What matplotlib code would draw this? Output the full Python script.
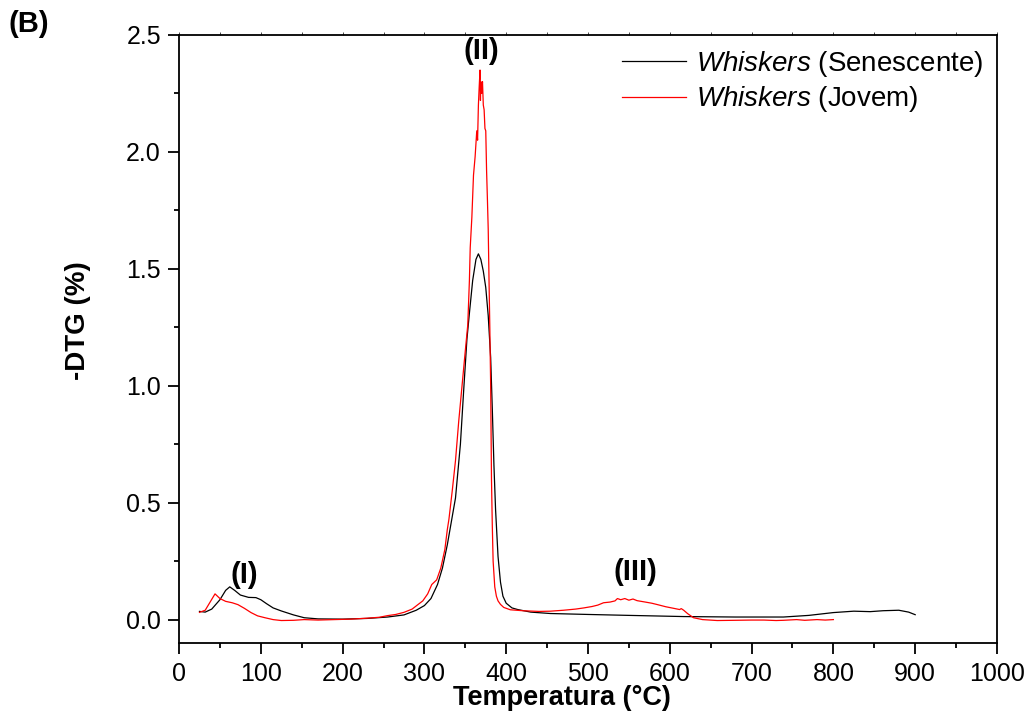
import matplotlib
matplotlib.use("Agg")
import matplotlib.pyplot as plt
from matplotlib.ticker import MultipleLocator, FormatStrFormatter

plt.rcParams['font.family'] = ['Liberation Sans', 'DejaVu Sans']
plt.rcParams['mathtext.fontset'] = 'custom'
plt.rcParams['mathtext.rm'] = 'Liberation Sans'
plt.rcParams['mathtext.it'] = 'Liberation Sans:italic'

# -DTG curves (temperature in C, -DTG in %)
temp_sen = [25, 32, 40, 50, 57, 62, 68, 75, 85, 94, 100, 107, 115, 125, 140, 153,
            170, 200, 230, 255, 275, 290, 300, 308, 316, 322, 328, 333, 338, 344,
            348, 352, 355, 359, 363, 366, 369, 372, 375, 378, 381, 383, 385, 387,
            390, 393, 396, 400, 407, 414, 430, 454, 500, 550, 617, 680, 739, 770,
            800, 825, 845, 861, 880, 892, 900]
dtg_sen = [0.035, 0.032, 0.045, 0.085, 0.125, 0.14, 0.125, 0.105, 0.095, 0.094,
           0.085, 0.068, 0.05, 0.037, 0.02, 0.008, 0.003, 0.002, 0.005, 0.011,
           0.02, 0.04, 0.06, 0.09, 0.15, 0.22, 0.32, 0.42, 0.52, 0.75, 0.98, 1.2,
           1.31, 1.45, 1.54, 1.564, 1.54, 1.49, 1.42, 1.3, 1.12, 0.9, 0.66, 0.47,
           0.27, 0.16, 0.1, 0.07, 0.05, 0.043, 0.032, 0.026, 0.022, 0.018, 0.013,
           0.011, 0.011, 0.018, 0.03, 0.036, 0.034, 0.038, 0.04, 0.032, 0.021]

temp_jov = [25, 32, 38, 44, 50, 57, 65, 72, 80, 88, 96, 105, 115, 125, 140, 153,
            170, 190, 210, 230, 245, 255, 265, 275, 285, 292, 298, 304, 309, 312,
            315, 320, 325, 328, 330, 334, 338, 342, 346, 350, 353, 355, 356, 358,
            360, 362, 364, 365, 366, 367, 368, 368.5, 369, 370, 371, 372, 373, 374,
            375, 376, 377, 378, 379, 380, 381, 382, 383, 384, 386, 388, 390, 393,
            397, 405, 420, 440, 454, 470, 485, 495, 505, 512, 519, 527, 533, 536,
            540, 545, 550, 555, 560, 570, 578, 585, 595, 605, 612, 614, 617, 622,
            629, 640, 658, 680, 700, 715, 730, 739, 755, 765, 780, 790, 800]
dtg_jov = [0.031, 0.04, 0.075, 0.11, 0.09, 0.078, 0.072, 0.064, 0.048, 0.03, 0.016,
           0.008, 0.0, -0.004, -0.003, 0.0, -0.002, 0.0, 0.002, 0.006, 0.01, 0.017,
           0.022, 0.031, 0.045, 0.064, 0.08, 0.11, 0.15, 0.16, 0.17, 0.22, 0.3,
           0.385, 0.43, 0.55, 0.68, 0.85, 1.0, 1.15, 1.26, 1.45, 1.59, 1.72, 1.9,
           1.98, 2.09, 2.05, 2.2, 2.28, 2.35, 2.22, 2.3, 2.25, 2.3, 2.2, 2.18, 2.1,
           2.09, 1.92, 1.8, 1.67, 1.45, 1.24, 1.0, 0.6, 0.4, 0.25, 0.14, 0.1, 0.08,
           0.065, 0.052, 0.042, 0.038, 0.035, 0.036, 0.04, 0.045, 0.05, 0.056,
           0.062, 0.072, 0.075, 0.08, 0.09, 0.085, 0.09, 0.083, 0.088, 0.081,
           0.075, 0.07, 0.064, 0.055, 0.048, 0.043, 0.047, 0.04, 0.025, 0.008, 0.0,
           -0.004, -0.003, -0.002, -0.002, -0.004, -0.003, 0.0, -0.003, 0.0,
           -0.002, 0.0]

labels = [r'$\it{Whiskers}$ (Senescente)', r'$\it{Whiskers}$ (Jovem)']
peak_names = ['(I)', '(II)', '(III)']
peak_pos = [(80, 0.19), (370, 2.43), (558, 0.205)]

fig = plt.figure(figsize=(10.26, 7.13), dpi=100)
ax = fig.add_axes([0.1745, 0.0982, 0.7972, 0.8528])

ax.plot(temp_sen, dtg_sen, color='black', lw=0.9, label=labels[0])
ax.plot(temp_jov, dtg_jov, color='red', lw=0.9, label=labels[1])

ax.set_xlim(0, 1000)
ax.set_ylim(-0.1, 2.5)
ax.xaxis.set_major_locator(MultipleLocator(100))
ax.xaxis.set_minor_locator(MultipleLocator(50))
ax.yaxis.set_major_locator(MultipleLocator(0.5))
ax.yaxis.set_minor_locator(MultipleLocator(0.25))
ax.yaxis.set_major_formatter(FormatStrFormatter('%.1f'))

for s in ax.spines.values():
    s.set_linewidth(1.3)
ax.tick_params(which='major', direction='out', length=8, width=1.3, labelsize=18)
ax.tick_params(which='minor', direction='out', length=3.8, width=1.3)
ax.tick_params(axis='x', which='major', pad=6)
ax.tick_params(axis='y', which='major', pad=5)
ax.tick_params(axis='x', which='both', top=True, labeltop=False)
for t in ax.xaxis.get_major_ticks() + ax.xaxis.get_minor_ticks():
    t.tick2line.set_markersize(2)
    t.tick2line.set_markeredgewidth(0.5)
    t.tick2line.set_color('gray')

ax.set_xlabel('Temperatura (°C)', fontsize=19.5, fontweight='bold')
ax.xaxis.set_label_coords(0.468, -0.069)
ax.set_ylabel('-DTG (%)', fontsize=20, fontweight='bold')
ax.yaxis.set_label_coords(-0.108, 0.53)

for name, (px, py) in zip(peak_names, peak_pos):
    ax.text(px, py, name, ha='center', va='center', fontsize=21, fontweight='bold')

fig.text(0.028, 0.966, '(B)', fontsize=21, fontweight='bold', ha='center', va='center')

ax.legend(loc='upper right', frameon=False, fontsize=20, handlelength=2.3,
          handletextpad=0.35, borderaxespad=0.2, borderpad=0.3, labelspacing=0.2)

fig.savefig('out.png', dpi=100)
